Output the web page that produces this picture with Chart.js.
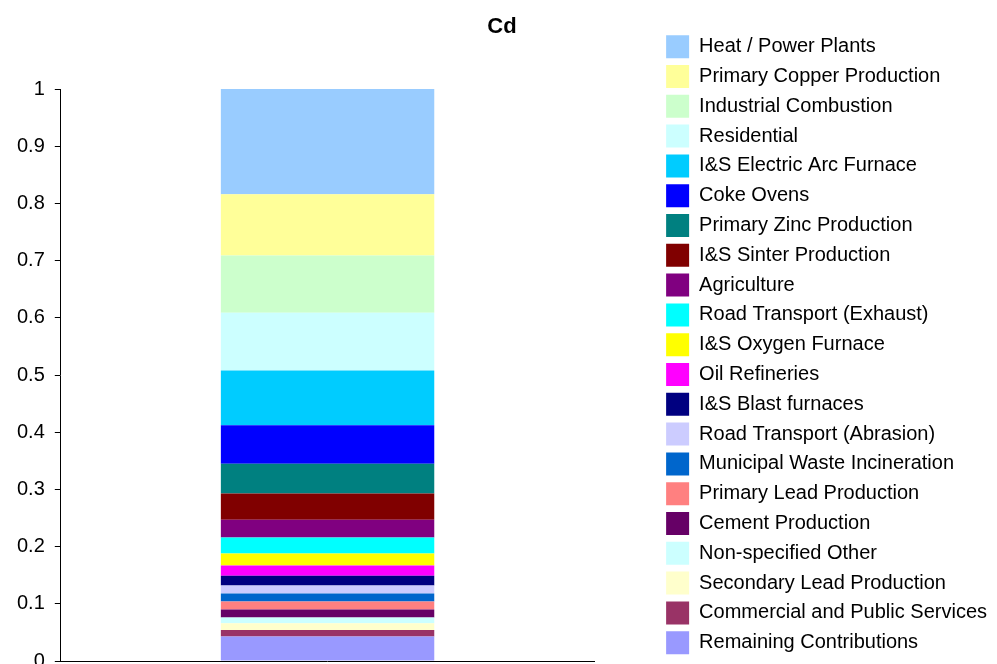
<!DOCTYPE html>
<html lang="en">
<head>
    <meta charset="UTF-8">
    <title>Cd</title>
    <script src="https://cdn.jsdelivr.net/npm/chart.js"></script>
    <style>
        html, body { margin: 0; padding: 0; background: #fff; overflow: hidden; }
        #wrap { width: 997px; height: 664px; position: relative; }
    </style>
</head>
<body>
<div id="wrap"><canvas id="cdChart"></canvas></div>
<script>
    // sources, listed top of the stack first (same order as the legend)
    const sources = [
        'Heat / Power Plants',
        'Primary Copper Production',
        'Industrial Combustion',
        'Residential',
        'I&S Electric Arc Furnace',
        'Coke Ovens',
        'Primary Zinc Production',
        'I&S Sinter Production',
        'Agriculture',
        'Road Transport (Exhaust)',
        'I&S Oxygen Furnace',
        'Oil Refineries',
        'I&S Blast furnaces',
        'Road Transport (Abrasion)',
        'Municipal Waste Incineration',
        'Primary Lead Production',
        'Cement Production',
        'Non-specified Other',
        'Secondary Lead Production',
        'Commercial and Public Services',
        'Remaining Contributions'
    ];
    const shares = [
        0.184, 0.107, 0.100, 0.101, 0.096, 0.067, 0.052, 0.046, 0.031, 0.028,
        0.021, 0.018, 0.017, 0.014, 0.014, 0.014, 0.014, 0.010, 0.012, 0.011, 0.043
    ];
    const colours = [
        '#99CCFF', '#FFFF99', '#CCFFCC', '#CCFFFF', '#00CCFF', '#0000FF', '#008080',
        '#800000', '#800080', '#00FFFF', '#FFFF00', '#FF00FF', '#000080', '#CCCCFF',
        '#0066CC', '#FF8080', '#660066', '#CCFFFF', '#FFFFCC', '#993366', '#9999FF'
    ];
    const categories = [''];
    const yTicks = { min: 0, max: 1, step: 0.1 };

    const font = "'Liberation Sans', Arial, sans-serif";

    // Chart.js stacks the first dataset at the bottom, so build them reversed
    const datasets = [];
    for (let i = sources.length - 1; i >= 0; i--) {
        datasets.push({
            label: sources[i],
            data: [shares[i]],
            backgroundColor: colours[i],
            borderWidth: 0,
            stack: 'cd',
            barPercentage: 0.4,
            categoryPercentage: 1.0
        });
    }

    new Chart(document.getElementById('cdChart'), {
        type: 'bar',
        data: { labels: categories, datasets: datasets },
        options: {
            responsive: true,
            maintainAspectRatio: false,
            animation: false,
            layout: { padding: { left: 7, right: 0, top: 0, bottom: 3 } },
            plugins: {
                tooltip: { enabled: false },
                title: {
                    display: true,
                    text: 'Cd',
                    weight: 500,
                    color: '#000',
                    font: { family: font, size: 22, weight: 'bold' },
                    padding: { top: 14, bottom: 48.6 }
                },
                legend: {
                    position: 'right',
                    align: 'end',
                    reverse: true,
                    maxWidth: 400,
                    labels: {
                        color: '#000',
                        font: { family: font, size: 20 },
                        boxWidth: 23,
                        boxHeight: 23,
                        padding: 6.8
                    }
                }
            },
            scales: {
                x: {
                    stacked: true,
                    grid: { display: false, drawTicks: false, tickLength: 0 },
                    ticks: { display: false },
                    border: { display: true, color: '#000', width: 1 }
                },
                y: {
                    stacked: true,
                    min: yTicks.min,
                    max: yTicks.max,
                    ticks: {
                        stepSize: yTicks.step,
                        color: '#000',
                        padding: 10,
                        font: { family: font, size: 20 },
                        callback: v => String(+v.toFixed(1))
                    },
                    grid: {
                        display: true,
                        drawOnChartArea: false,
                        tickLength: 6,
                        tickColor: '#000'
                    },
                    border: { display: true, color: '#000', width: 1 },
                    afterFit: function (s) {
                        // let the end labels overflow like the original
                        s.paddingTop = 0;
                        s.paddingBottom = 0;
                    }
                },
                // empty spacer between plot and legend
                gap: {
                    position: 'right',
                    display: false,
                    afterFit: function (s) {
                        s.width = 65;
                    }
                }
            }
        }
    });
</script>
</body>
</html>
